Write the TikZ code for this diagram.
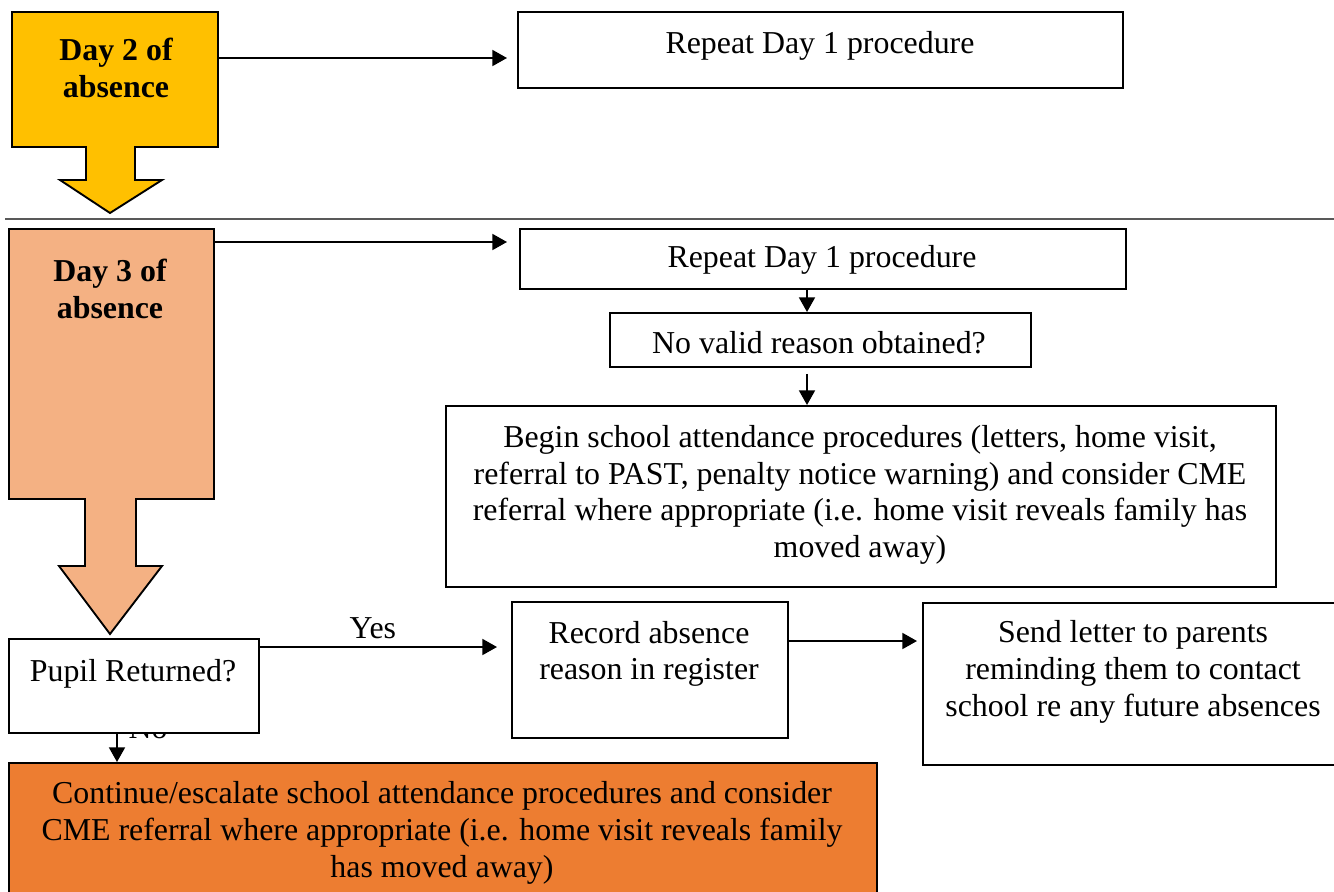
\documentclass[tikz,border=0pt]{standalone}
\usepackage{fontspec}
\setmainfont{Liberation Serif}
\usetikzlibrary{arrows.meta}

\newlength\px
\setlength\px{0.3765pt}

\definecolor{daytwo}{HTML}{FFC000}
\definecolor{daythree}{HTML}{F4B183}
\definecolor{escal}{HTML}{ED7D31}

\tikzset{
  box/.style={draw, line width = 0.25mm, fill=white, anchor=north west, inner sep=0pt},
  txt/.style={align=center, inner sep=0pt, font=\fontsize{12}{13.8}\selectfont},
  arr/.style={line width = 0.25mm, -{Triangle[length=5.5pt,width=6pt]}},
}

\begin{document}
\begin{tikzpicture}[x=\px, y=-\px]
                    \useasboundingbox (0,0) rectangle (1334,892);

                    % day 2
                    \node[box, fill=daytwo, minimum width=206*\px, minimum height=135*\px] (day2) at (11,11) {};
                    \fill[daytwo] (86,144) -- (86,180) -- (60,180) -- (110,213) -- (162,180) -- (135,180) -- (135,144) -- cycle;
                    \draw[line width = 0.25mm] (86,146) -- (86,180) -- (60,180) -- (110,213) -- (162,180) -- (135,180) -- (135,146);
                    \node[txt, font=\fontsize{12}{13.8}\selectfont\bfseries] (day2-t) at (116,68) {Day 2 of\\absence};

                    \node[box, minimum width=605*\px, minimum height=76*\px] (rep2) at (517,11) {};
                    \node[txt] (rep2-t) at (820,46) {Repeat Day 1 procedure};

                    \coordinate (a2) at ([yshift=-47*\px]day2.north east);
                    \draw[arr, shorten >=10*\px] (a2) -- (a2 -| rep2.west);

                    % separator
                    \draw[black!65, line width = 0.15mm] (5,219) -- (1334,219);

                    % day 3
                    \node[box, fill=daythree, minimum width=205*\px, minimum height=270*\px] (day3) at (8,228) {};
                    \fill[daythree] (85,496) -- (85,566) -- (59,566) -- (110,634) -- (162,566) -- (136,566) -- (136,496) -- cycle;
                    \draw[line width = 0.25mm] (85,498) -- (85,566) -- (59,566) -- (110,634) -- (162,566) -- (136,566) -- (136,498);
                    \node[txt, font=\fontsize{12}{13.8}\selectfont\bfseries] (day3-t) at (110,289) {Day 3 of\\absence};

                    \node[box, minimum width=606*\px, minimum height=60*\px] (rep3) at (519,228) {};
                    \node[txt] (rep3-t) at (822,260) {Repeat Day 1 procedure};

                    \coordinate (a3) at ([yshift=-14*\px]day3.north east);
                    \draw[arr, shorten >=12*\px] (a3) -- (a3 -| rep3.west);

                    \node[box, minimum width=421*\px, minimum height=54*\px] (novalid) at (609,312) {};
                    \node[txt] (novalid-t) at (819,343) {No valid reason obtained?};

                    \node[box, minimum width=830*\px, minimum height=181*\px] (begin) at (445,405) {};
                    \node[txt] (begin-t) at (860,495) {Begin school attendance procedures (letters, home visit,\\referral to PAST, penalty notice warning) and consider CME\\referral where appropriate (i.e. home visit reveals family has\\moved away)};

                    \coordinate (col) at (807,0);
                    \draw[arr] (rep3.south -| col) -- (novalid.north -| col);
                    \draw[arr, shorten <=6*\px] (novalid.south -| col) -- (begin.north -| col);

                    % pupil returned
                    \node[txt] (no) at (148,728) {No};
                    \node[box, minimum width=250*\px, minimum height=94*\px] (pupil) at (8,638) {};
                    \node[txt] (pupil-t) at (133,674) {Pupil Returned?};

                    \node[box, minimum width=276*\px, minimum height=136*\px] (record) at (511,601) {};
                    \node[txt] (record-t) at (649,654) {Record absence\\reason in register};

                    \node[box, minimum width=422*\px, minimum height=162*\px] (sendlet) at (922,602) {};
                    \node[txt] (sendlet-t) at (1133,672) {Send letter to parents\\reminding them to contact\\school re any future absences};

                    \coordinate (ay) at ([yshift=-9*\px]pupil.north east);
                    \draw[arr, shorten >=14*\px] (ay) -- node[txt, pos=0.45, above=7*\px] (yes) {Yes} (ay -| record.west);

                    \coordinate (ar) at ([yshift=-40*\px]record.north east);
                    \draw[arr, shorten >=5*\px] (ar) -- (ar -| sendlet.west);

                    % continue
                    \node[box, fill=escal, minimum width=868*\px, minimum height=140*\px] (contin) at (8,762) {};
                    \node[txt] (contin-t) at (442,833) {Continue/escalate school attendance procedures and consider\\CME referral where appropriate (i.e. home visit reveals family\\has moved away)};

                    \coordinate (colno) at (117,0);
                    \draw[arr] (pupil.south -| colno) -- (contin.north -| colno);

\end{tikzpicture}
\end{document}
